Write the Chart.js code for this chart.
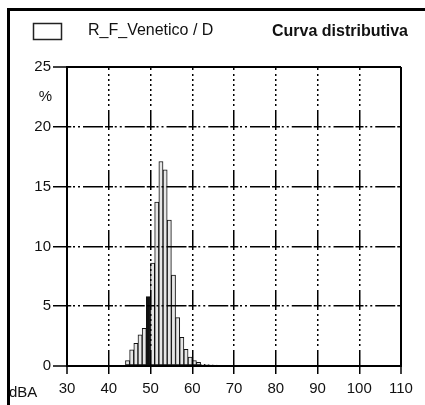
<!DOCTYPE html>
<html><head><meta charset="utf-8">
<script src="https://cdn.jsdelivr.net/npm/chart.js@4.4.0/dist/chart.umd.min.js"></script>
<style>html,body{margin:0;padding:0;background:#fff;}#wrap{width:425px;height:405px;}</style>
</head><body><div id="wrap"><canvas id="c" width="425" height="405"></canvas></div>
<script>
// ---- data ----
const seriesLabel = 'R_F_Venetico / D';
const chartTitle = 'Curva distributiva';
const binStarts = [44,45,46,47,48,49,50,51,52,53,54,55,56,57,58,59,60,61,62,63,64,65];
const percentValues = [0.45,1.35,1.9,2.6,3.15,5.8,8.6,13.7,17.1,16.4,12.2,7.6,4.05,2.4,1.4,0.75,0.45,0.3,0.15,0.12,0.1,0.05];
const xTickValues = [30,40,50,60,70,80,90,100,110];
const yTickValues = [0,5,10,15,20,25];
const xUnit = 'dBA';
const yUnit = '%';
const highlightedBin = 49;

const FONT = "'Liberation Sans', Arial, sans-serif";
const vDash = [20,4,2,3,2,3,2,3,2,3,2,3,2,3,2,4];
const hDash = [8,1.75,2,3,2,3,20,2];

const points = binStarts.map((b,i)=>({x:b+0.5, y:percentValues[i]}));

const decor = {
  id:'decor',
  afterDraw(chart){
    const ctx = chart.ctx;
    const xs = chart.scales.x, ys = chart.scales.y;
    ctx.save();
    ctx.strokeStyle = '#000'; ctx.lineWidth = 3;
    ctx.beginPath(); ctx.moveTo(8.5,405); ctx.lineTo(8.5,9.5); ctx.lineTo(425,9.5); ctx.stroke();
    ctx.lineWidth = 1.5; ctx.strokeStyle = '#222';
    ctx.strokeRect(33.5,23.5,28,16);
    ctx.fillStyle = '#111'; ctx.textBaseline = 'middle';
    ctx.font = "16px " + FONT; ctx.textAlign = 'left';
    ctx.fillText(chart.data.datasets[0].label, 88, 31);
    ctx.font = "bold 16px " + FONT; ctx.textAlign = 'right';
    ctx.fillText(chartTitle, 408, 32);
    ctx.font = "15px " + FONT; ctx.textAlign = 'right';
    ctx.fillText(yUnit, 52, ys.getPixelForValue(22.5));
    ctx.textAlign = 'left';
    ctx.fillText(xUnit, 9, 393);
    ctx.restore();
  }
};

const edgeX = v => v === xTickValues[0] || v === xTickValues[xTickValues.length-1];
const edgeY = v => v === yTickValues[0] || v === yTickValues[yTickValues.length-1];

new Chart(document.getElementById('c'), {
  type:'bar',
  data:{ datasets:[{
    label: seriesLabel,
    data: points,
    backgroundColor: c => (c.raw && c.raw.x - 0.5 === highlightedBin) ? '#111' : '#e6e6e6',
    borderColor:'#111', borderWidth:1, borderSkipped:false,
    barPercentage:1, categoryPercentage:1, grouped:false
  }]},
  options:{
    responsive:false, animation:false, devicePixelRatio:1,
    layout:{padding:{left:0, top:67, right:24, bottom:0}},
    plugins:{legend:{display:false}, tooltip:{enabled:false}},
    scales:{
      x:{
        type:'linear', min:30, max:110, offset:false,
        afterBuildTicks: s => { s.ticks = xTickValues.map(v=>({value:v})); },
        afterFit: s => { s.height = 39; },
        ticks:{ font:{family:FONT, size:15}, color:'#111', padding:6, maxRotation:0, autoSkip:false },
        grid:{ offset:false, z:1, color:'#000', lineWidth: c => (c.tick && edgeX(c.tick.value)) ? 2 : 1.5,
               tickLength:8, tickColor:'#000', tickWidth:1.5, tickBorderDash:[] },
        border:{ z:2, display:true, color:'#000', width:2,
                 dash: c => (c.tick && edgeX(c.tick.value)) ? [] : vDash, dashOffset:17 }
      },
      y:{
        min:0, max:25,
        afterBuildTicks: s => { s.ticks = yTickValues.map(v=>({value:v})); },
        afterFit: s => { s.width = 67; },
        ticks:{ font:{family:FONT, size:15}, color:'#111', padding:2 },
        grid:{ z:1, color:'#000', lineWidth: c => (c.tick && edgeY(c.tick.value)) ? 2 : 1.5,
               tickLength:14, tickColor:'#000', tickWidth:1.5, tickBorderDash:[] },
        border:{ z:2, display:true, color:'#000', width:2,
                 dash: c => (c.tick && edgeY(c.tick.value)) ? [] : hDash, dashOffset:4.75 }
      }
    }
  },
  plugins:[decor]
});
</script></body></html>
